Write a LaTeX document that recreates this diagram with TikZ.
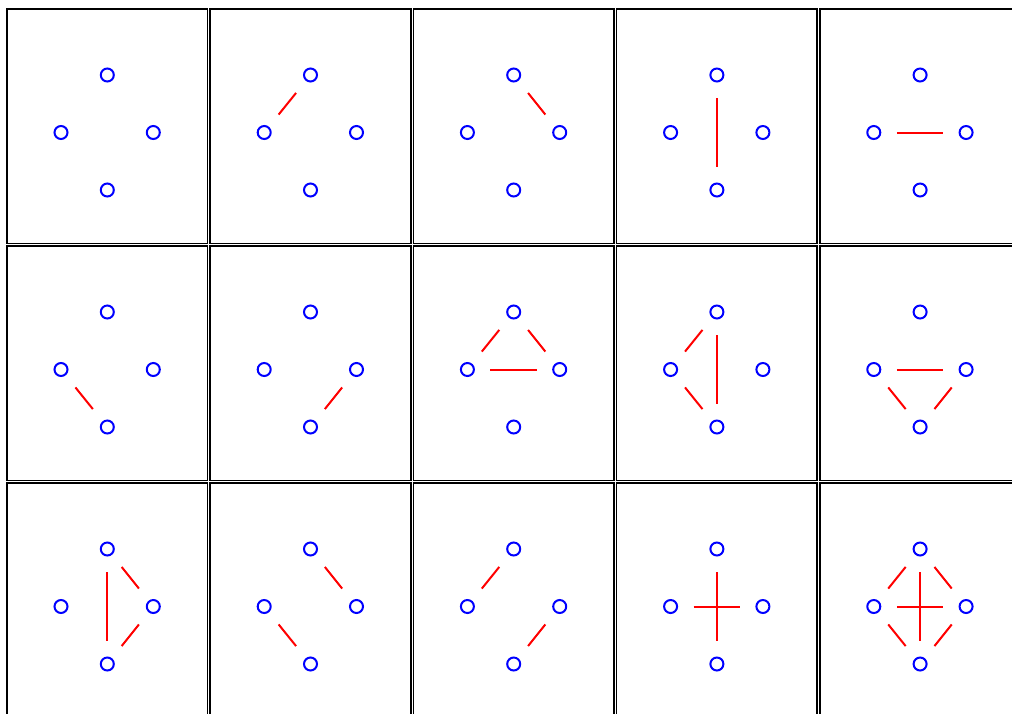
\documentclass[tikz,border=0pt]{standalone}
\usepackage{tikz}
\usetikzlibrary{calc}

\begin{document}
\begin{tikzpicture}[
    x=0.5pt, y=-0.5pt,
    cell/.style={draw=black, line width=0.8pt},
    vert/.style={
      circle, draw=blue, line width=1pt,
      minimum size=6.5pt, inner sep=0pt, outer sep=8.25pt
    },
    link/.style={draw=red, line width=1pt}
  ]

    \useasboundingbox (0,0) rectangle (1012,713);

    % --- Boxes and the four vertices of each graph ---
    \foreach \n in {1,...,15} {
      \pgfmathtruncatemacro{\col}{mod(\n-1,5)}
      \pgfmathtruncatemacro{\row}{(\n-1)/5}
      \pgfmathsetmacro{\xo}{7+203.2*\col}
      \pgfmathsetmacro{\yo}{9+237*\row}
      \draw[cell] (\xo,\yo) rectangle ++(200.5,234.5);
      \node[vert] (c\n-t) at (\xo+100.3,\yo+66) {};
      \node[vert] (c\n-l) at (\xo+54,\yo+123.5) {};
      \node[vert] (c\n-r) at (\xo+146.3,\yo+123.5) {};
      \node[vert] (c\n-b) at (\xo+100.3,\yo+181) {};
    }

    % --- Edges (graph number / end / end) ---
    \foreach \c/\a/\b in {
        2/t/l, 3/t/r, 4/t/b, 5/l/r,
        6/l/b, 7/r/b,
        8/t/l, 8/t/r, 8/l/r,
        9/t/l, 9/t/b, 9/l/b,
        10/l/r, 10/l/b, 10/r/b,
        11/t/b, 11/t/r, 11/r/b,
        12/t/r, 12/l/b,
        13/t/l, 13/r/b,
        14/t/b, 14/l/r,
        15/t/l, 15/t/r, 15/t/b, 15/l/r, 15/l/b, 15/r/b}
      \draw[link] (c\c-\a) -- (c\c-\b);

  \end{tikzpicture}
\end{document}
